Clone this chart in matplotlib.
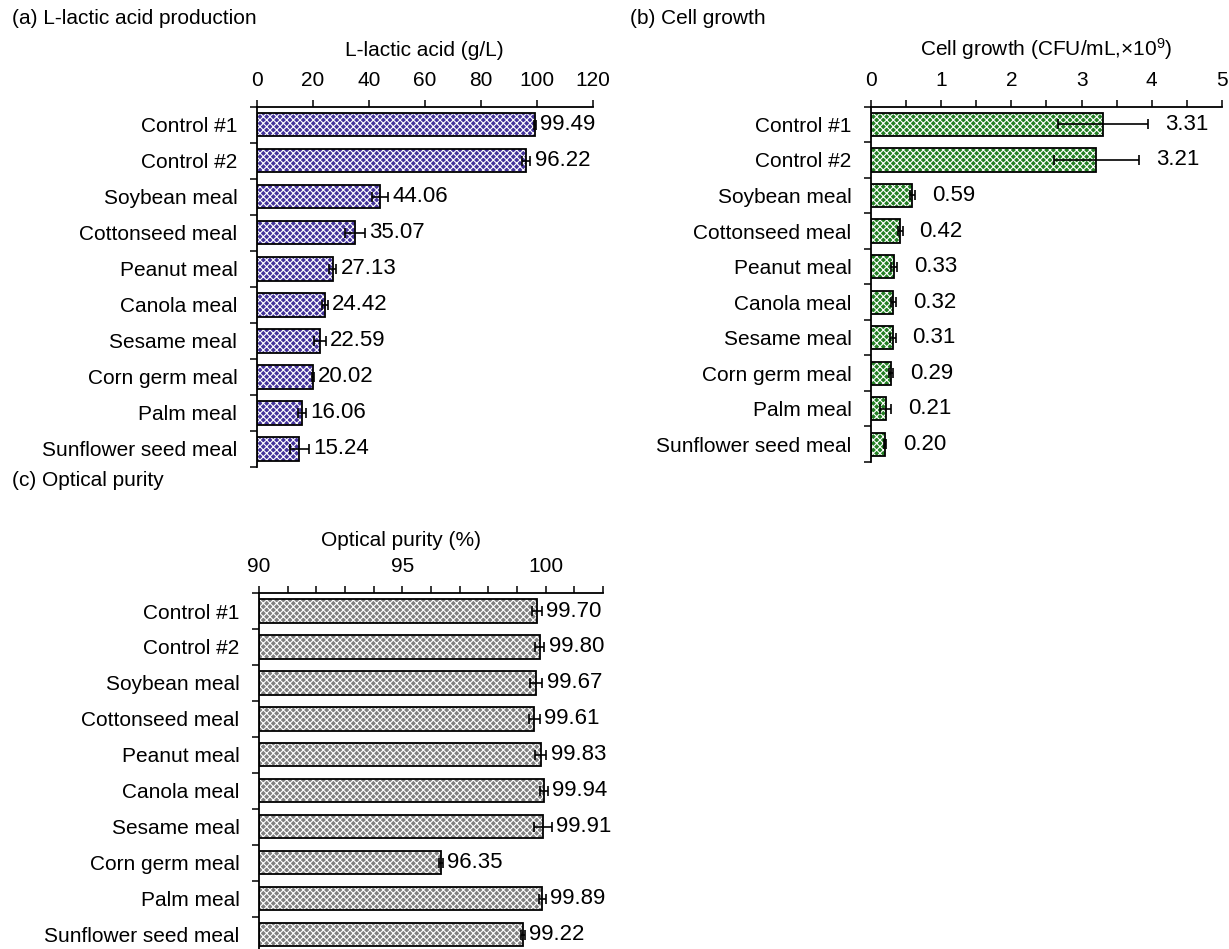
import numpy as np
import matplotlib
matplotlib.use('Agg')
import matplotlib.pyplot as plt
from matplotlib.ticker import MultipleLocator, FixedLocator

plt.rcParams['font.family'] = ['Liberation Sans', 'DejaVu Sans']
plt.rcParams['font.size'] = 15
plt.rcParams['mathtext.default'] = 'regular'
plt.rcParams['hatch.linewidth'] = 0.8

categories = ['Control #1', 'Control #2', 'Soybean meal', 'Cottonseed meal',
              'Peanut meal', 'Canola meal', 'Sesame meal', 'Corn germ meal',
              'Palm meal', 'Sunflower seed meal']

lactic = [99.49, 96.22, 44.06, 35.07, 27.13, 24.42, 22.59, 20.02, 16.06, 15.24]
lactic_err = [0.3, 1.5, 2.85, 3.5, 1.3, 1.0, 2.2, 0.3, 1.5, 3.4]

growth = [3.31, 3.21, 0.59, 0.42, 0.33, 0.32, 0.31, 0.29, 0.21, 0.20]
growth_err = [0.64, 0.61, 0.04, 0.03, 0.04, 0.04, 0.04, 0.03, 0.08, 0.02]

purity = [99.70, 99.80, 99.67, 99.61, 99.83, 99.94, 99.91, 96.35, 99.89, 99.22]
purity_err = [0.17, 0.16, 0.22, 0.2, 0.2, 0.15, 0.3, 0.07, 0.13, 0.07]

y = np.arange(len(categories))


def panel(ax, vals, errs, base, color, xlim, major, minor, xlabel, label_off,
          labelpad):
    vals = np.array(vals)
    widths = vals - base
    # coloured fill with white cross pattern, then a plain black outline on top
    ax.barh(y, widths, left=base, height=0.65, color=color, edgecolor='white',
            hatch='xxxxx', linewidth=0, zorder=2)
    ax.barh(y, widths, left=base, height=0.65, fill=False, edgecolor='black',
            linewidth=1.3, zorder=3)
    ax.errorbar(vals, y, xerr=errs, fmt='none', ecolor='black', elinewidth=1.2,
                capsize=3.5, capthick=1.2, zorder=4)
    for yi, v, e in zip(y, vals, errs):
        ax.annotate(f'{v:.2f}', xy=(v + e, yi), xytext=(label_off, 0),
                    textcoords='offset points', va='center', ha='left',
                    fontsize=16)

    ax.set_xlim(*xlim)
    ax.set_ylim(len(categories) - 0.5, -0.5)
    ax.xaxis.tick_top()
    ax.xaxis.set_label_position('top')
    ax.xaxis.set_major_locator(MultipleLocator(major))
    ax.xaxis.set_minor_locator(MultipleLocator(minor))
    ax.tick_params(axis='x', which='both', direction='out', length=5, width=1.1, pad=7)
    ax.set_xlabel(xlabel, labelpad=labelpad)

    ax.set_yticks(y)
    ax.set_yticklabels(categories)
    ax.yaxis.set_minor_locator(FixedLocator(np.arange(-0.5, len(categories), 1.0)))
    ax.tick_params(axis='y', which='major', length=0, pad=14)
    ax.tick_params(axis='y', which='minor', direction='out', length=5, width=1.1)

    for side in ('right', 'bottom'):
        ax.spines[side].set_visible(False)
    for side in ('top', 'left'):
        ax.spines[side].set_linewidth(1.3)


fig = plt.figure(figsize=(12.29, 9.49), dpi=100)

ax_a = fig.add_axes([0.2089, 0.5079, 0.2734, 0.3797])
panel(ax_a, lactic, lactic_err, 0, '#44339a', (0, 120), 20, 20,
      'L-lactic acid (g/L)', 3, 11)

ax_b = fig.add_axes([0.7087, 0.5132, 0.2856, 0.3744])
panel(ax_b, growth, growth_err, 0, '#237f23', (0, 5), 1, 0.5,
      'Cell growth (CFU/mL,×10$^{9}$)', 12, 11)

ax_c = fig.add_axes([0.2107, -0.0037, 0.2799, 0.3788])
panel(ax_c, purity, purity_err, 90, '#808080', (90, 102), 5, 1,
      'Optical purity (%)', 3, 8.5)
ax_c.xaxis.get_label().set_x(0.413)

fig.text(0.0095, 1 - 19 / 949, '(a) L-lactic acid production', va='center', ha='left')
fig.text(630 / 1229, 1 - 19 / 949, '(b) Cell growth', va='center', ha='left')
fig.text(0.0095, 1 - 480 / 949, '(c) Optical purity', va='center', ha='left')

fig.savefig('out.png', dpi=100)
